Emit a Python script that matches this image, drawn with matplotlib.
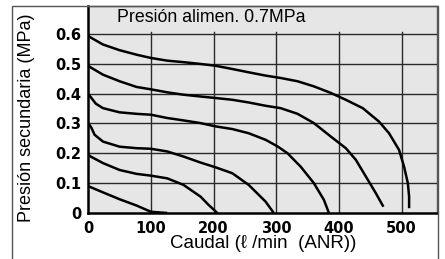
import matplotlib
matplotlib.use("Agg")
import matplotlib.pyplot as plt
from matplotlib.patches import Rectangle

# flow (l/min ANR) vs secondary pressure (MPa), supply 0.7 MPa
flow_06 = [0, 23.5, 50, 77, 100, 126, 152, 179, 203, 230, 256, 283, 307, 334, 360, 387,
           411, 438, 464, 480, 496, 504, 510, 512, 512]
pres_06 = [0.592, 0.564, 0.545, 0.530, 0.519, 0.510, 0.505, 0.499, 0.493, 0.482, 0.471, 0.460,
           0.452, 0.441, 0.424, 0.402, 0.379, 0.351, 0.306, 0.267, 0.211, 0.155, 0.100, 0.055, 0.016]

flow_05 = [0, 23.5, 50, 77, 100, 126, 152, 179, 203, 230, 256, 283, 307, 334, 360, 387,
           411, 427, 443, 459, 471]
pres_05 = [0.492, 0.463, 0.441, 0.422, 0.414, 0.404, 0.396, 0.390, 0.385, 0.379, 0.370, 0.359,
           0.351, 0.332, 0.301, 0.256, 0.217, 0.178, 0.122, 0.066, 0.021]

flow_04 = [0, 5, 12, 23.5, 50, 77, 100, 126, 152, 179, 203, 230, 256, 283, 302, 318, 339,
           360, 376, 384]
pres_04 = [0.398, 0.385, 0.366, 0.351, 0.337, 0.332, 0.329, 0.318, 0.310, 0.301, 0.290, 0.281,
           0.267, 0.245, 0.223, 0.200, 0.155, 0.100, 0.044, 0.0]

flow_03 = [1, 5, 10, 23.5, 50, 77, 100, 126, 152, 179, 203, 230, 256, 283, 296]
pres_03 = [0.298, 0.285, 0.262, 0.239, 0.222, 0.217, 0.215, 0.206, 0.189, 0.169, 0.153, 0.133,
           0.094, 0.038, 0.0]

flow_02 = [0, 2, 23.5, 50, 77, 100, 126, 152, 179, 192, 206]
pres_02 = [0.197, 0.191, 0.167, 0.144, 0.131, 0.125, 0.116, 0.094, 0.055, 0.027, 0.0]

flow_01 = [0, 2, 23.5, 50, 77, 100, 126]
pres_01 = [0.090, 0.088, 0.069, 0.046, 0.025, 0.004, 0.0]

curves = [(flow_06, pres_06), (flow_05, pres_05), (flow_04, pres_04),
          (flow_03, pres_03), (flow_02, pres_02), (flow_01, pres_01)]

x_ticks = [0, 100, 200, 300, 400, 500]
y_ticks = [0, 0.1, 0.2, 0.3, 0.4, 0.5, 0.6]
y_tick_labels = ["0", "0.1", "0.2", "0.3", "0.4", "0.5", "0.6"]

title = "Presión alimen. 0.7MPa"
x_label = "Caudal (ℓ /min  (ANR))"
y_label = "Presión secundaria (MPa)"

W, H = 445, 259
fig = plt.figure(figsize=(W / 100, H / 100), dpi=100)
ax = fig.add_axes([88.3 / W, (H - 213) / H, (437.3 - 88.3) / W, (213 - 6) / H])
ax.set_facecolor("#e6e6e6")
ax.set_xlim(0, 557)
ax.set_ylim(0, 0.693)

# grid: vertical lines stop just above 0.6
for x in x_ticks[1:]:
    ax.plot([x, x], [0, 0.607], color="#2a2a2a", lw=1.0, zorder=1)
for y in y_ticks[1:]:
    ax.axhline(y, color="#2a2a2a", lw=1.0, zorder=1)

for fx, py in curves:
    ax.plot(fx, py, color="black", lw=1.8, zorder=3, solid_capstyle="butt",
            solid_joinstyle="round")

ax.text(46, 0.654, title, fontsize=12.8, family="Liberation Sans", va="center", ha="left")

ax.set_xticks(x_ticks)
ax.set_xticklabels([str(v) for v in x_ticks])
ax.set_yticks(y_ticks)
ax.set_yticklabels(y_tick_labels)
ax.tick_params(axis="y", length=0, pad=5)
ax.tick_params(axis="x", length=0, pad=6)
for lbl in ax.get_xticklabels() + ax.get_yticklabels():
    lbl.set_fontweight("bold")
    lbl.set_fontsize(10.5)
    lbl.set_family("DejaVu Sans")

for side in ["left", "bottom"]:
    ax.spines[side].set_linewidth(1.8)
    ax.spines[side].set_color("black")
for side in ["top", "right"]:
    ax.spines[side].set_linewidth(1.0)
    ax.spines[side].set_color("#555555")

ax.set_xlabel(x_label, fontsize=13.5, family="Liberation Sans", labelpad=-1)
fig.text(27 / W, 1 - 117.5 / H, y_label, rotation=90, fontsize=13,
         family="Liberation Sans", ha="center", va="center")

# outer frame
fig.patches.append(Rectangle((12 / W, -0.05), (438 - 12) / W, 1.05 - 6 / H,
                             transform=fig.transFigure, fill=False,
                             edgecolor="#555555", lw=1.0))

fig.savefig("out.png", dpi=100)
